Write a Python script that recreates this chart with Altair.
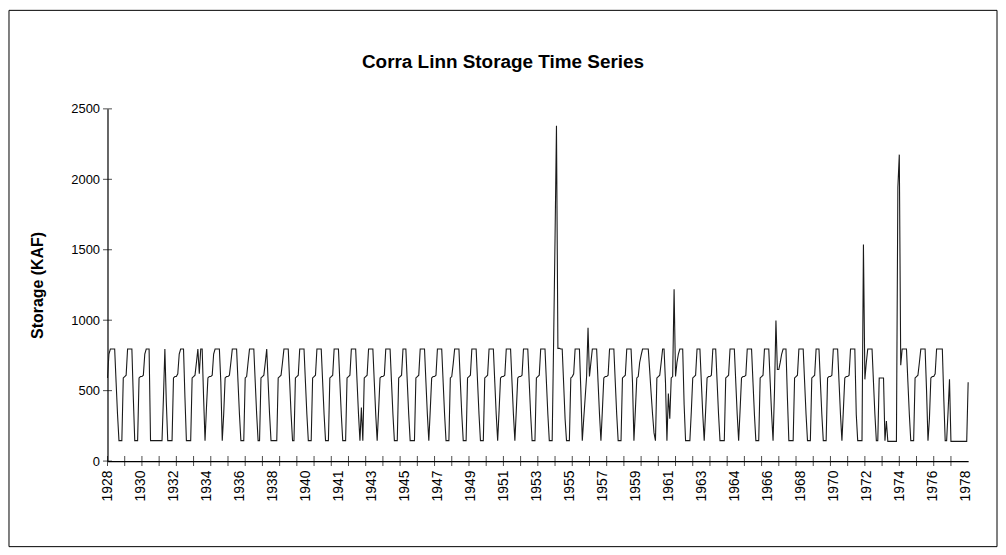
import altair as alt
import pandas as pd

# ---- data ----
year_labels = ["1928", "1930", "1932", "1934", "1936", "1938", "1940", "1941", "1943",
               "1945", "1947", "1949", "1951", "1953", "1955", "1957", "1959", "1961",
               "1963", "1964", "1966", "1968", "1970", "1972", "1974", "1976", "1978"]

# monthly storage (KAF), one row of 12 months per year, starting mid-1928
storage_by_year = [
    [590, 760, 795, 795, 795, 795, 560, 330, 145, 145, 145, 590],   # 1928
    [600, 610, 795, 795, 795, 795, 450, 145, 145, 145, 590, 600],   # 1929
    [600, 610, 760, 795, 795, 795, 145, 145, 145, 145, 145, 145],   # 1930
    [145, 145, 145, 450, 795, 420, 145, 145, 145, 145, 590, 600],   # 1931
    [600, 620, 760, 795, 795, 795, 450, 145, 145, 145, 145, 590],   # 1932
    [600, 610, 700, 795, 620, 795, 795, 450, 145, 380, 590, 600],   # 1933
    [600, 610, 760, 795, 795, 795, 795, 560, 145, 330, 590, 600],   # 1934
    [600, 610, 700, 795, 795, 795, 795, 560, 330, 145, 145, 145],   # 1935
    [590, 600, 700, 795, 795, 795, 795, 560, 330, 145, 145, 590],   # 1936
    [600, 610, 700, 795, 560, 330, 145, 145, 145, 145, 145, 590],   # 1937
    [600, 610, 700, 795, 795, 795, 795, 560, 330, 145, 145, 590],   # 1938
    [600, 610, 795, 795, 795, 795, 560, 330, 145, 145, 145, 590],   # 1939
    [600, 610, 795, 795, 795, 795, 560, 330, 145, 145, 145, 590],   # 1940
    [600, 610, 795, 795, 795, 795, 560, 330, 145, 145, 145, 590],   # 1941
    [600, 610, 795, 795, 795, 795, 560, 330, 145, 380, 145, 590],   # 1942
    [600, 610, 795, 795, 795, 795, 560, 330, 145, 360, 590, 600],   # 1943
    [600, 610, 795, 795, 795, 795, 560, 330, 145, 145, 145, 590],   # 1944
    [600, 610, 795, 795, 795, 560, 330, 145, 145, 145, 145, 590],   # 1945
    [600, 610, 795, 795, 795, 795, 560, 330, 145, 360, 590, 600],   # 1946
    [600, 610, 795, 795, 795, 795, 560, 330, 145, 145, 145, 590],   # 1947
    [600, 690, 795, 795, 795, 795, 560, 330, 145, 145, 145, 590],   # 1948
    [600, 610, 795, 795, 795, 795, 560, 330, 145, 145, 145, 590],   # 1949
    [600, 610, 795, 795, 795, 795, 560, 330, 145, 360, 590, 600],   # 1950
    [600, 610, 795, 795, 795, 795, 560, 330, 145, 360, 590, 600],   # 1951
    [600, 610, 795, 795, 795, 795, 560, 330, 145, 145, 145, 590],   # 1952
    [600, 610, 795, 795, 795, 795, 560, 330, 145, 145, 145, 840],   # 1953
    [1580, 2380, 800, 800, 795, 795, 550, 300, 145, 145, 145, 590], # 1954
    [600, 620, 795, 795, 795, 795, 500, 145, 300, 450, 600, 946],   # 1955
    [600, 700, 795, 795, 795, 795, 560, 330, 145, 360, 590, 600],   # 1956
    [600, 610, 795, 795, 795, 795, 560, 330, 145, 145, 145, 590],   # 1957
    [600, 610, 795, 795, 795, 795, 560, 145, 360, 590, 600, 700],   # 1958
    [750, 795, 795, 795, 795, 795, 640, 480, 330, 200, 145, 590],   # 1959
    [600, 610, 700, 795, 795, 560, 145, 480, 300, 590, 600, 1220],  # 1960
    [600, 700, 760, 795, 795, 795, 400, 145, 145, 145, 145, 350],   # 1961
    [590, 600, 610, 795, 795, 795, 560, 330, 145, 360, 590, 600],   # 1962
    [600, 610, 795, 795, 795, 560, 330, 145, 145, 145, 145, 590],   # 1963
    [600, 610, 795, 795, 795, 795, 560, 330, 145, 360, 590, 600],   # 1964
    [600, 610, 795, 795, 795, 795, 560, 330, 145, 145, 145, 590],   # 1965
    [600, 610, 795, 795, 795, 795, 560, 330, 145, 500, 998, 650],   # 1966
    [650, 700, 760, 795, 795, 795, 450, 145, 145, 145, 145, 590],   # 1967
    [600, 610, 795, 795, 795, 795, 560, 330, 145, 145, 145, 590],   # 1968
    [600, 610, 795, 795, 795, 560, 330, 145, 145, 145, 590, 600],   # 1969
    [600, 610, 795, 795, 795, 795, 560, 330, 145, 360, 590, 600],   # 1970
    [600, 610, 795, 795, 795, 795, 330, 145, 145, 145, 145, 1537],  # 1971
    [580, 700, 795, 795, 795, 795, 560, 330, 145, 145, 590, 590],   # 1972
    [590, 590, 145, 285, 140, 140, 140, 140, 140, 140, 140, 1944],  # 1973
    [2175, 680, 795, 795, 795, 795, 560, 330, 145, 145, 145, 590],  # 1974
    [600, 610, 700, 795, 795, 795, 795, 500, 145, 300, 590, 600],   # 1975
    [600, 620, 795, 795, 795, 795, 795, 450, 145, 145, 350, 580],   # 1976
    [140, 140, 140, 140, 140, 140, 140, 140, 140, 140, 140, 140],   # 1977
]
storage_tail = [560]  # final month, 1978

y_tick_values = [0, 500, 1000, 1500, 2000, 2500]

# ---- tables built from the arrays ----
values = [v for row in storage_by_year for v in row] + storage_tail
n_months = len(values) - 1
df = pd.DataFrame({"month": list(range(len(values))), "storage": values})

months_per_label = 23
label_months = [months_per_label * k for k in range(len(year_labels))]
label_expr = "[" + ",".join(f"'{y}'" for y in year_labels) + "][round(datum.value / %d)]" % months_per_label

xtick_df = pd.DataFrame({"month": list(range(0, n_months, 12))})
ytick_df = pd.DataFrame({"storage": y_tick_values})

FONT = "Liberation Sans"
x_scale = alt.Scale(domain=[0, n_months], nice=False, zero=False)
y_scale = alt.Scale(domain=[0, 2500], nice=False)

x_axis = alt.Axis(values=label_months, tickCount=60, labelExpr=label_expr, labelAngle=-90,
                  labelAlign="right", labelBaseline="middle", ticks=False,
                  grid=False, title=None, labelFontSize=14, labelFont=FONT,
                  labelColor="black", labelPadding=9, labelOverlap=False,
                  labelFlush=False, labelBound=False, domainColor="black",
                  domainWidth=1.2)
y_axis = alt.Axis(values=y_tick_values, tickCount=20, format="d", ticks=False, grid=False,
                  title="Storage (KAF)", titleFont=FONT, titleFontSize=16,
                  titleFontWeight="bold", titleColor="black", titlePadding=25,
                  labelFontSize=13, labelFont=FONT, labelColor="black",
                  labelPadding=8, labelOverlap=False, domainColor="black",
                  domainWidth=1.2)

line = alt.Chart(df).mark_line(color="#1a1a1a", strokeWidth=1.1).encode(
    x=alt.X("month:Q", scale=x_scale, axis=x_axis),
    y=alt.Y("storage:Q", scale=y_scale, axis=y_axis),
)

xticks = alt.Chart(xtick_df).mark_tick(orient="vertical", size=10, thickness=1, color="black").encode(
    x=alt.X("month:Q", scale=x_scale, axis=x_axis), y=alt.datum(0)
)
yticks = alt.Chart(ytick_df).mark_tick(orient="horizontal", size=9, thickness=1, color="black").encode(
    y=alt.Y("storage:Q", scale=y_scale, axis=y_axis), x=alt.datum(0)
)

frame = alt.Chart(pd.DataFrame({"f": [0]})).mark_rect(
    fill="white", fillOpacity=0, stroke="black", strokeWidth=1
).encode(x=alt.value(-99), x2=alt.value(894), y=alt.value(-99), y2=alt.value(440))

chart = alt.layer(frame, line, xticks, yticks).properties(
    width=865, height=354,
    autosize=alt.AutoSizeParams(type="none"),
    padding={"left": 100, "top": 100, "right": 30, "bottom": 88},
    title=alt.TitleParams("Corra Linn Storage Time Series", font=FONT, fontSize=19,
                          fontWeight="bold", color="black", anchor="middle",
                          frame="bounds", baseline="middle", offset=-71),
).configure_view(strokeWidth=0)

chart.save("out.html", embed_options={"renderer": "svg", "actions": False})
